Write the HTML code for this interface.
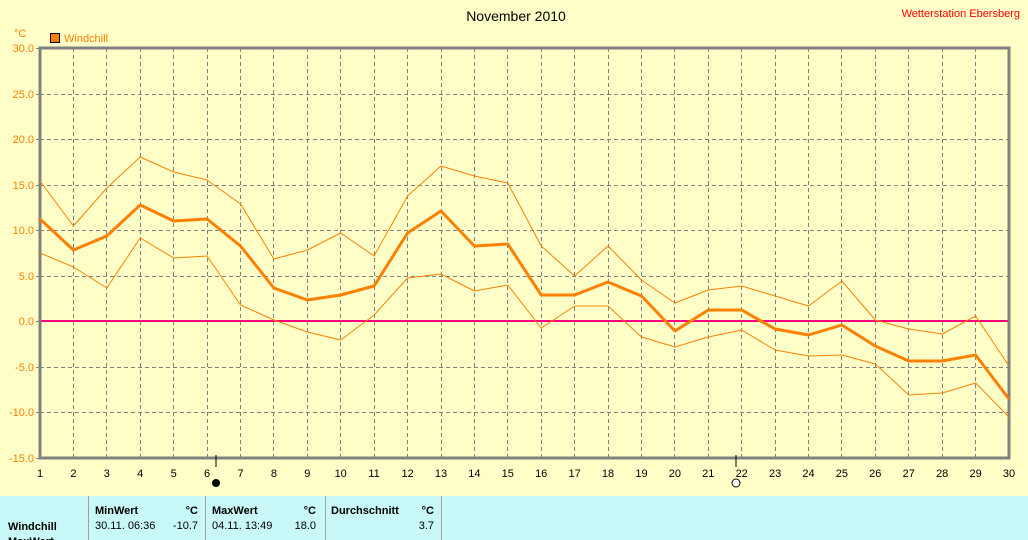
<!DOCTYPE html>
<html><head><meta charset="utf-8"><style>
html,body{margin:0;padding:0;background:#FFFFC8;}
svg{display:block;font-family:"Liberation Sans",sans-serif;}
</style></head><body>
<svg width="1028" height="540" viewBox="0 0 1028 540" xmlns="http://www.w3.org/2000/svg">
<rect x="0" y="0" width="1028" height="540" fill="#FFFFC8"/>
<text x="516" y="21" font-size="14" text-anchor="middle" fill="#000">November 2010</text>
<text x="1020" y="17" font-size="11" text-anchor="end" fill="#FF0000">Wetterstation Ebersberg</text>
<text x="14" y="37" font-size="11" fill="#FF8000">°C</text>
<rect x="50.5" y="33.5" width="9" height="9" fill="#FF8000" stroke="#000"/>
<text x="64" y="42" font-size="11" fill="#FF8000">Windchill</text>
<g stroke="#808080" stroke-width="1" stroke-dasharray="4,3" fill="none">
<path d="M40 94.5H1009M40 139.5H1009M40 185.5H1009M40 230.5H1009M40 276.5H1009M40 367.5H1009M40 412.5H1009"/>
<path d="M73.5 48V458M106.5 48V458M140.5 48V458M173.5 48V458M207.5 48V458M240.5 48V458M273.5 48V458M307.5 48V458M340.5 48V458M374.5 48V458M407.5 48V458M441.5 48V458M474.5 48V458M507.5 48V458M541.5 48V458M574.5 48V458M608.5 48V458M641.5 48V458M674.5 48V458M708.5 48V458M741.5 48V458M775.5 48V458M808.5 48V458M841.5 48V458M875.5 48V458M908.5 48V458M942.5 48V458M975.5 48V458"/>
</g>
<line x1="40" y1="321" x2="1009" y2="321" stroke="#FF0080" stroke-width="2"/>
<path d="M40 48H1009V458H40Z" fill="none" stroke="#808080" stroke-width="3"/>
<g fill="#FF8000" font-size="11" text-anchor="end">
<text x="34" y="52">30.0</text><text x="34" y="98">25.0</text><text x="34" y="143">20.0</text><text x="34" y="189">15.0</text><text x="34" y="234">10.0</text><text x="34" y="280">5.0</text><text x="34" y="325">0.0</text><text x="34" y="371">-5.0</text><text x="34" y="416">-10.0</text><text x="34" y="462">-15.0</text>
</g>
<g stroke="#808080" stroke-width="1"><path d="M36 48.5H40M36 94.5H40M36 139.5H40M36 185.5H40M36 230.5H40M36 276.5H40M36 321.5H40M36 367.5H40M36 412.5H40M36 458.5H40"/></g>
<g font-size="11" text-anchor="middle" fill="#000">
<text x="40" y="477">1</text><text x="73.4" y="477">2</text><text x="106.8" y="477">3</text><text x="140.2" y="477">4</text><text x="173.7" y="477">5</text><text x="207.1" y="477">6</text><text x="240.5" y="477">7</text><text x="273.9" y="477">8</text><text x="307.3" y="477">9</text><text x="340.7" y="477">10</text><text x="374.1" y="477">11</text><text x="407.6" y="477">12</text><text x="441" y="477">13</text><text x="474.4" y="477">14</text><text x="507.8" y="477">15</text><text x="541.2" y="477">16</text><text x="574.6" y="477">17</text><text x="608" y="477">18</text><text x="641.5" y="477">19</text><text x="674.9" y="477">20</text><text x="708.3" y="477">21</text><text x="741.7" y="477">22</text><text x="775.1" y="477">23</text><text x="808.5" y="477">24</text><text x="841.9" y="477">25</text><text x="875.3" y="477">26</text><text x="908.8" y="477">27</text><text x="942.2" y="477">28</text><text x="975.6" y="477">29</text><text x="1009" y="477">30</text>
</g>
<line x1="216" y1="455" x2="216" y2="467" stroke="#000"/>
<circle cx="216" cy="483" r="4" fill="#000"/>
<line x1="736" y1="455" x2="736" y2="467" stroke="#000"/>
<circle cx="736" cy="483" r="4" fill="#fff" stroke="#000"/>
<g fill="none" stroke="#FF8000" stroke-linejoin="round">
<polyline stroke-width="1" points="40,181 73.4,226 106.8,188 140.2,157 173.7,172 207.1,180 240.5,204 273.9,259 307.3,250 340.7,233 374.1,256 407.6,196 441,166 474.4,176 507.8,183 541.2,246 574.6,276 608,246 641.5,280 674.9,303 708.3,290 741.7,286 775.1,296 808.5,306 841.9,281 875.3,320 908.8,329 942.2,334 975.6,316 1009,366"/>
<polyline stroke-width="1" points="40,253 73.4,267 106.8,288 140.2,238 173.7,258 207.1,256 240.5,305 273.9,320 307.3,332 340.7,340 374.1,315 407.6,278 441,274 474.4,291 507.8,285 541.2,328 574.6,306 608,306 641.5,337 674.9,347 708.3,337 741.7,330 775.1,350 808.5,356 841.9,355 875.3,364 908.8,395 942.2,393 975.6,383 1009,417"/>
<polyline stroke-width="3" points="40,219 73.4,250 106.8,236 140.2,205 173.7,221 207.1,219 240.5,246 273.9,288 307.3,300 340.7,295 374.1,286 407.6,233 441,211 474.4,246 507.8,244 541.2,295 574.6,295 608,282 641.5,296 674.9,331 708.3,310 741.7,310 775.1,329 808.5,335 841.9,325 875.3,346 908.8,361 942.2,361 975.6,355 1009,399"/>
</g>
<rect x="0" y="496" width="1028" height="44" fill="#C8F8F8"/>
<g stroke="#A0A0A0"><path d="M88.5 496V540M205.5 496V540M325.5 496V540M441.5 496V540"/></g>
<g font-size="11" fill="#000">
<text x="95" y="514" font-weight="bold">MinWert</text><text x="198" y="514" text-anchor="end" font-weight="bold">°C</text>
<text x="212" y="514" font-weight="bold">MaxWert</text><text x="316" y="514" text-anchor="end" font-weight="bold">°C</text>
<text x="331" y="514" font-weight="bold">Durchschnitt</text><text x="434" y="514" text-anchor="end" font-weight="bold">°C</text>
<text x="8" y="530" font-weight="bold">Windchill</text>
<text x="95" y="529">30.11.  06:36</text><text x="198" y="529" text-anchor="end">-10.7</text>
<text x="212" y="529">04.11.  13:49</text><text x="316" y="529" text-anchor="end">18.0</text>
<text x="434" y="529" text-anchor="end">3.7</text>
<text x="8" y="545" font-weight="bold">MaxWert</text>
</g>
</svg>
</body></html>
